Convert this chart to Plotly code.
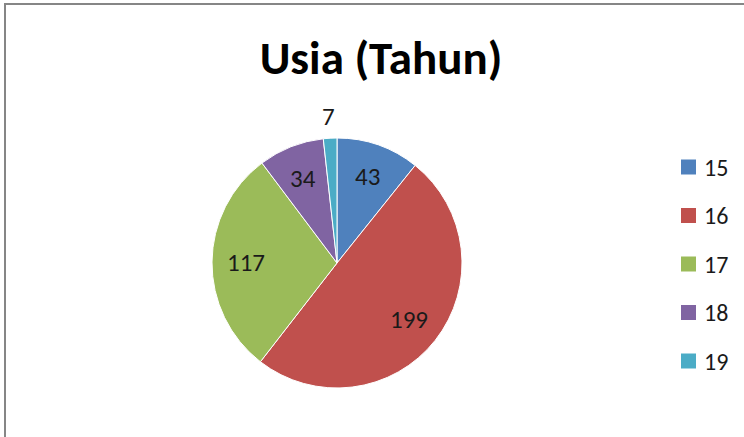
import math
import plotly.graph_objects as go

# ---- data ----
categories = ["15", "16", "17", "18", "19"]
values = [43, 199, 117, 34, 7]
colors = ["#4F81BD", "#C0504D", "#9BBB59", "#8064A2", "#4BACC6"]
title_text = "Usia (Tahun)"

W, H = 744, 437
FONT = "Carlito, Calibri, Lato, sans-serif"

def px(x):
    return x / W

def py(y):
    return 1 - y / H

# pie geometry (pixels)
CX, CY, R = 337, 263, 125

fig = go.Figure(go.Pie(
    labels=categories,
    values=values,
    sort=False,
    direction="clockwise",
    rotation=0,
    marker=dict(colors=colors, line=dict(color="white", width=1)),
    textinfo="none",
    hoverinfo="label+value",
    domain=dict(x=[px(CX - R), px(CX + R)], y=[py(CY + R), py(CY - R)]),
    showlegend=False,
))

annotations = []
# data labels computed from cumulative values
total = sum(values)
cum = 0
for v in values:
    mid = (cum + v / 2) / total * 2 * math.pi
    cum += v
    frac = v / total
    f = 0.73 if frac > 0.04 else 1.17
    x = CX + f * R * math.sin(mid)
    y = CY - f * R * math.cos(mid)
    annotations.append(dict(
        x=px(x), y=py(y), xref="paper", yref="paper",
        text=str(v), showarrow=False,
        font=dict(family=FONT, size=25, color="#1a1a1a"),
        xanchor="center", yanchor="middle",
    ))

shapes = []
# chart border (extends beyond right and bottom edges)
shapes.append(dict(type="rect", xref="paper", yref="paper",
                   x0=px(5), x1=1.05, y0=-0.05, y1=py(4),
                   line=dict(color="#868686", width=2), fillcolor="rgba(0,0,0,0)",
                   layer="below"))

# manual legend
LX, LY0, LDY, SQ = 681, 167, 48.5, 15
for i, (cat, col) in enumerate(zip(categories, colors)):
    yc = LY0 + i * LDY
    shapes.append(dict(type="rect", xref="paper", yref="paper",
                       x0=px(LX), x1=px(LX + SQ), y0=py(yc + SQ / 2), y1=py(yc - SQ / 2),
                       line=dict(width=0), fillcolor=col))
    annotations.append(dict(
        x=px(LX + 21), y=py(yc), xref="paper", yref="paper",
        text=cat, showarrow=False, xanchor="left", yanchor="middle",
        font=dict(family=FONT, size=24, color="#1a1a1a"),
    ))

fig.update_layout(
    width=W, height=H,
    margin=dict(l=0, r=0, t=0, b=0),
    paper_bgcolor="white",
    plot_bgcolor="white",
    title=dict(text="<b>" + title_text + "</b>", x=px(381), y=py(58),
               xanchor="center", yanchor="middle", xref="paper", yref="paper",
               font=dict(family=FONT, size=47, color="black")),
    annotations=annotations,
    shapes=shapes,
)

fig.write_html("out.html", config={"displayModeBar": False},
               post_script="document.body.style.margin='0';document.body.style.overflow='hidden';")
